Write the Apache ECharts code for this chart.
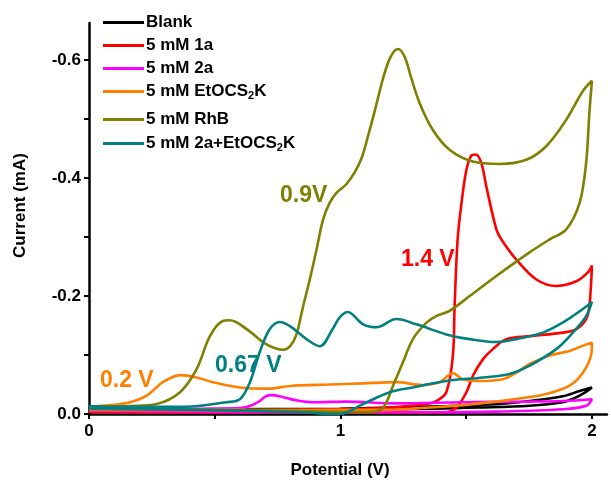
<!DOCTYPE html>
<html>
<head>
<meta charset="utf-8">
<script src="https://cdn.jsdelivr.net/npm/echarts@6/dist/echarts.min.js"></script>
<style>
  html, body { margin: 0; padding: 0; background: #fff; }
  #main { width: 611px; height: 484px; }
</style>
</head>
<body>
<div id="main"></div>
<script>
// potential (V), current (mA) - forward scan then reverse scan
var blankData = [
  [0, -0.007], [0.441, -0.008], [0.997, -0.009], [1.434, -0.0135], [1.633, -0.017],
  [1.752, -0.022], [1.884, -0.030], [1.951, -0.039], [2.0, -0.045],
  [1.975, -0.037], [1.931, -0.027], [1.884, -0.020], [1.752, -0.014], [1.553, -0.011],
  [1.236, -0.008], [0.640, -0.006], [0, -0.005]
];
var data1a = [
  [0, -0.003], [0.441, -0.005], [0.838, -0.007], [1.156, -0.010], [1.342, -0.017],
  [1.381, -0.022], [1.421, -0.037], [1.447, -0.099], [1.454, -0.183], [1.466, -0.296],
  [1.483, -0.363], [1.501, -0.414], [1.520, -0.438], [1.538, -0.440], [1.560, -0.426],
  [1.580, -0.386], [1.620, -0.313], [1.640, -0.296], [1.699, -0.262], [1.779, -0.228],
  [1.858, -0.217], [1.938, -0.225], [1.984, -0.240], [2.0, -0.252],
  [1.990, -0.183], [1.977, -0.161], [1.938, -0.144], [1.884, -0.138], [1.752, -0.132],
  [1.660, -0.127], [1.606, -0.110], [1.567, -0.093], [1.527, -0.065], [1.501, -0.037],
  [1.461, -0.011], [1.421, -0.003], [1.037, -0.002], [0.441, -0.002], [0, -0.003]
];
var data2a = [
  [0, -0.007], [0.242, -0.008], [0.441, -0.009], [0.600, -0.010], [0.648, -0.015],
  [0.679, -0.022], [0.703, -0.030], [0.726, -0.032], [0.759, -0.030], [0.785, -0.027],
  [0.838, -0.022], [0.891, -0.020], [1.024, -0.021], [1.222, -0.018], [1.487, -0.020],
  [1.752, -0.021], [1.884, -0.022], [2.0, -0.025],
  [1.977, -0.014], [1.884, -0.008], [1.620, -0.004], [1.355, -0.003], [0.838, -0.003], [0, -0.005]
];
var dataEtOCS2K = [
  [0, -0.012], [0.083, -0.015], [0.163, -0.020], [0.229, -0.031], [0.294, -0.054],
  [0.362, -0.066], [0.428, -0.062], [0.493, -0.054], [0.600, -0.045], [0.706, -0.043],
  [0.810, -0.048], [0.957, -0.050], [1.089, -0.052], [1.222, -0.054], [1.327, -0.049],
  [1.394, -0.054], [1.447, -0.069], [1.487, -0.059], [1.553, -0.056], [1.645, -0.059],
  [1.699, -0.070], [1.752, -0.085], [1.832, -0.099], [1.911, -0.107], [1.977, -0.118], [2.0, -0.121],
  [1.997, -0.101], [1.964, -0.070], [1.911, -0.048], [1.818, -0.034], [1.725, -0.027],
  [1.620, -0.021], [1.487, -0.015], [1.355, -0.011], [1.156, -0.007], [0.640, -0.007], [0, -0.007]
];
var dataRhB = [
  [0, -0.012], [0.163, -0.0135], [0.269, -0.017], [0.362, -0.037], [0.428, -0.076],
  [0.481, -0.132], [0.534, -0.158], [0.560, -0.159], [0.627, -0.144], [0.706, -0.118],
  [0.772, -0.109], [0.800, -0.115], [0.825, -0.135], [0.850, -0.180], [0.878, -0.228],
  [0.905, -0.279], [0.931, -0.330], [0.957, -0.358], [0.984, -0.375], [1.024, -0.390],
  [1.057, -0.410], [1.085, -0.435], [1.112, -0.475], [1.140, -0.520], [1.170, -0.570],
  [1.200, -0.606], [1.229, -0.619], [1.255, -0.606], [1.280, -0.572], [1.315, -0.527], [1.367, -0.482],
  [1.434, -0.448], [1.526, -0.428], [1.633, -0.424], [1.739, -0.431], [1.818, -0.454],
  [1.898, -0.499], [1.963, -0.547], [2.0, -0.565],
  [1.990, -0.511], [1.977, -0.426], [1.951, -0.358], [1.898, -0.313], [1.832, -0.296],
  [1.752, -0.274], [1.620, -0.234], [1.514, -0.200], [1.434, -0.175], [1.381, -0.166],
  [1.342, -0.155], [1.288, -0.127], [1.249, -0.088], [1.209, -0.048], [1.183, -0.020],
  [1.156, -0.006], [1.089, -0.003], [0.838, -0.005], [0.441, -0.007], [0, -0.008]
];
var data2aEtOCS2K = [
  [0, -0.0135], [0.163, -0.012], [0.362, -0.012], [0.547, -0.020], [0.600, -0.025],
  [0.640, -0.054], [0.679, -0.105], [0.719, -0.144], [0.759, -0.156], [0.799, -0.149],
  [0.865, -0.127], [0.918, -0.115], [0.969, -0.144], [0.997, -0.164], [1.029, -0.173],
  [1.090, -0.152], [1.143, -0.147], [1.222, -0.161], [1.302, -0.152], [1.421, -0.135],
  [1.514, -0.127], [1.620, -0.122], [1.699, -0.127], [1.805, -0.138], [1.884, -0.155],
  [1.964, -0.178], [2.0, -0.190],
  [1.977, -0.166], [1.924, -0.138], [1.858, -0.110], [1.752, -0.082], [1.673, -0.068],
  [1.567, -0.062], [1.421, -0.056], [1.288, -0.045], [1.196, -0.037], [1.090, -0.017],
  [0.997, 0], [0.838, -0.003], [0.441, -0.007], [0, -0.010]
];

var seriesNames = ['Blank', '5 mM 1a', '5 mM 2a', '5 mM EtOCS2K', '5 mM RhB', '5 mM 2a+EtOCS2K'];
var seriesColors = ['#000000', '#ff0000', '#ff00ff', '#ff8000', '#808000', '#008080'];
var seriesData = [blankData, data1a, data2a, dataEtOCS2K, dataRhB, data2aEtOCS2K];
var legendTops = [9, 32, 55, 78, 106, 130];

var xTicks = [0, 0.5, 1, 1.5, 2];
var xLabels = [0, 1, 2];
var yTicks = [-0.6, -0.5, -0.4, -0.3, -0.2, -0.1, 0];
var yLabels = [-0.6, -0.4, -0.2, 0];

var font = 'Liberation Sans, Arial, sans-serif';

var chart = echarts.init(document.getElementById('main'));

var legends = seriesNames.map(function (name, i) {
  return {
    data: [name],
    left: 98,
    top: legendTops[i],
    icon: 'rect',
    itemWidth: 41,
    itemHeight: 3,
    selectedMode: false,
    formatter: function (n) {
      return n.replace('S2K', 'S{sub|2}K');
    },
    textStyle: {
      color: '#000',
      fontFamily: font,
      fontWeight: 'bold',
      fontSize: 17,
      padding: [0, 0, 0, -3],
      rich: {
        sub: {
          fontFamily: font,
          fontWeight: 'bold',
          fontSize: 11,
          color: '#000',
          padding: [9, 0, 0, 0]
        }
      }
    }
  };
});

var series = seriesNames.map(function (name, i) {
  return {
    name: name,
    type: 'line',
    data: seriesData[i],
    symbol: 'none',
    smooth: 0.35,
    z: 2 + i,
    lineStyle: { color: seriesColors[i], width: 2.6 },
    itemStyle: { color: seriesColors[i] }
  };
});

var option = {
  animation: false,
  backgroundColor: '#fff',
  grid: { left: 89, right: 4, top: 23, bottom: 69 },
  legend: legends,
  xAxis: {
    type: 'value',
    min: 0,
    max: 2.06,
    name: 'Potential (V)',
    nameLocation: 'middle',
    nameGap: 48,
    nameTextStyle: { color: '#000', fontFamily: font, fontWeight: 'bold', fontSize: 17, padding: [0, 16, 0, 0] },
    axisLine: { onZero: false, lineStyle: { color: '#000', width: 2.5 } },
    axisTick: { show: true, customValues: xTicks, length: 5, inside: false, lineStyle: { color: '#000', width: 2 } },
    axisLabel: {
      customValues: xLabels,
      color: '#000', fontFamily: font, fontWeight: 'bold', fontSize: 17, margin: 9,
      formatter: function (v) { return String(v); }
    },
    splitLine: { show: false }
  },
  yAxis: {
    type: 'value',
    inverse: true,
    min: -0.663,
    max: 0,
    name: 'Current (mA)',
    nameLocation: 'middle',
    nameGap: 60,
    nameTextStyle: { color: '#000', fontFamily: font, fontWeight: 'bold', fontSize: 17, padding: [0, 0, 0, 26] },
    axisLine: { lineStyle: { color: '#000', width: 2.5 } },
    axisTick: { show: true, customValues: yTicks, length: 5, inside: false, lineStyle: { color: '#000', width: 2 } },
    axisLabel: {
      customValues: yLabels,
      color: '#000', fontFamily: font, fontWeight: 'bold', fontSize: 17, margin: 8,
      formatter: function (v) { return v.toFixed(1); }
    },
    splitLine: { show: false }
  },
  graphic: [
    { type: 'text', left: 280, top: 184, style: { text: '0.9V', fill: '#808000', font: 'bold 23px ' + font } },
    { type: 'text', left: 401, top: 248, style: { text: '1.4 V', fill: '#ff0000', font: 'bold 23px ' + font } },
    { type: 'text', left: 100, top: 369, style: { text: '0.2 V', fill: '#ff8000', font: 'bold 23px ' + font } },
    { type: 'text', left: 215, top: 354, style: { text: '0.67 V', fill: '#008080', font: 'bold 23px ' + font } }
  ],
  series: series
};

chart.setOption(option);
</script>
</body>
</html>
